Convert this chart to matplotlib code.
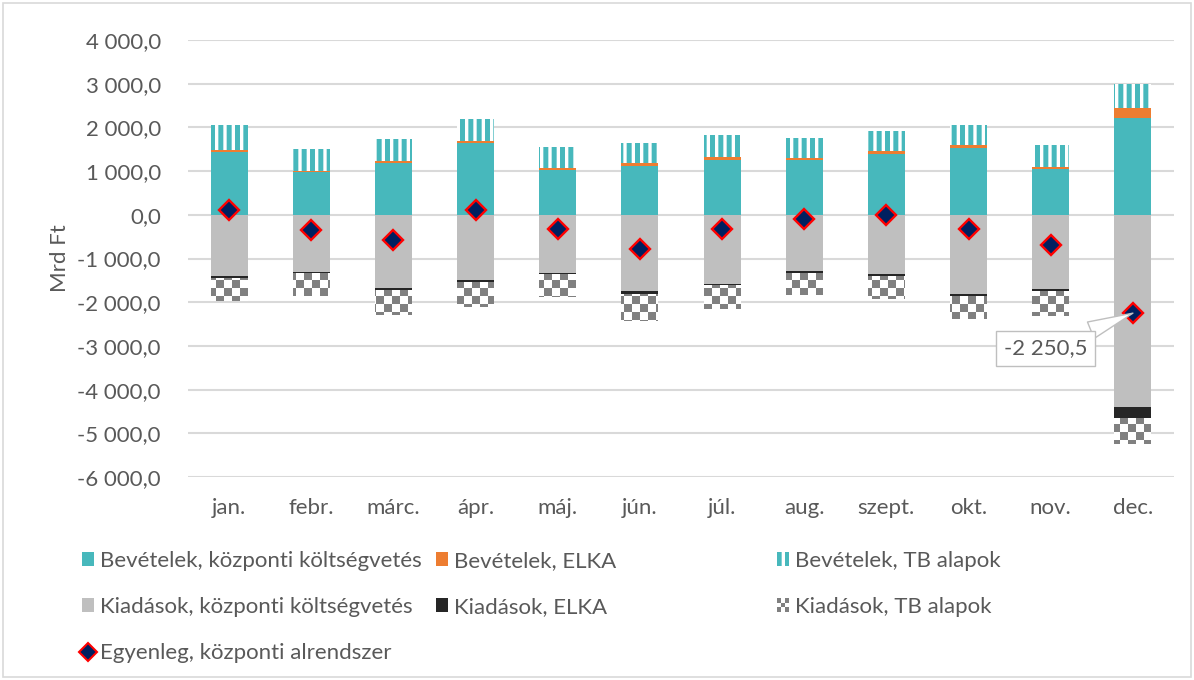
import numpy as np
import matplotlib
matplotlib.use("Agg")
import matplotlib.pyplot as plt
from matplotlib.ticker import FuncFormatter, MultipleLocator
from matplotlib.patches import Rectangle, Patch
from matplotlib.lines import Line2D
from matplotlib.path import Path
from matplotlib.legend_handler import HandlerBase

# ---------------- data (Mrd Ft) ----------------
months = ['jan.', 'febr.', 'márc.', 'ápr.', 'máj.', 'jún.', 'júl.', 'aug.',
          'szept.', 'okt.', 'nov.', 'dec.']
rev_central = [1447, 983, 1195, 1637, 1029, 1120, 1264, 1248, 1401, 1531, 1045, 2210]
rev_elka = [45, 30, 45, 55, 35, 60, 50, 45, 65, 55, 60, 230]
rev_tb = [570, 500, 496, 503, 496, 466, 512, 466, 457, 480, 496, 549]
exp_central = [1410, 1303, 1669, 1502, 1326, 1746, 1577, 1289, 1365, 1822, 1698, 4405]
exp_elka = [30, 25, 60, 40, 40, 60, 40, 45, 45, 45, 53, 245]
exp_tb = [530, 520, 570, 570, 510, 625, 533, 510, 525, 510, 558, 594]
balance = [100, -340, -580, 100, -320, -790, -320, -90, -10, -320, -700, -2250.5]
annot_label = '-2 250,5'

labels = ['Bevételek, központi költségvetés', 'Bevételek, ELKA', 'Bevételek, TB alapok',
          'Kiadások, központi költségvetés', 'Kiadások, ELKA', 'Kiadások, TB alapok',
          'Egyenleg, központi alrendszer']

TEAL = '#47B8BC'
ORANGE = '#ED7D31'
GREY = '#BFBFBF'
BLACK = '#262626'
CHECK = '#808080'
TXT = '#595959'
GRID = '#D9D9D9'
FS = 16

plt.rcParams['font.family'] = ['Lato', 'DejaVu Sans']
plt.rcParams['hatch.linewidth'] = 3.6

fig = plt.figure(figsize=(11.94, 6.80), dpi=100)
ax = fig.add_axes([188 / 1194, 1 - 477 / 680, (1174 - 188) / 1194, (477 - 40) / 680])

x = np.arange(len(months))
w = 0.45
rc = np.array(rev_central, float)
re = np.array(rev_elka, float)
rt = np.array(rev_tb, float)
ec = np.array(exp_central, float)
ee = np.array(exp_elka, float)
et = np.array(exp_tb, float)

ax.bar(x, rc, w, color=TEAL, zorder=2, linewidth=0)
ax.bar(x, re, w, bottom=rc, color=ORANGE, zorder=2, linewidth=0)
ax.bar(x, rt, w, bottom=rc + re, facecolor='white', edgecolor=TEAL, hatch='||',
       linewidth=0, zorder=2)
ax.bar(x, -ec, w, color=GREY, zorder=2, linewidth=0)
ax.bar(x, -ee, w, bottom=-ec, color=BLACK, zorder=2, linewidth=0)
tbx = ax.bar(x, -et, w, bottom=-ec - ee, facecolor='white', linewidth=0, zorder=2)

# checkerboard pattern, clipped to the TB expense bars
H, W = 680, 1194
cell = 8
yy, xx = np.mgrid[0:H, 0:W]
mask = ((xx // cell + yy // cell) % 2) == 0
img = np.ones((H, W, 3))
img[mask] = np.array([0x80, 0x80, 0x80]) / 255.0
im = ax.imshow(img, extent=[0, 1, 0, 1], transform=fig.transFigure, aspect='auto',
               interpolation='nearest', zorder=2.5)
cpath = Path.make_compound_path(*[p.get_patch_transform().transform_path(p.get_path())
                                  for p in tbx.patches])
im.set_clip_path(cpath, ax.transData)

ax.plot(x, balance, linestyle='none', marker='D', markersize=10.5,
        markerfacecolor='#002060', markeredgecolor='#FF0000', markeredgewidth=1.7, zorder=4)

ax.annotate(annot_label, xy=(11, balance[-1]), xytext=(9.94, -3060), textcoords='data',
            ha='center', va='center', fontsize=FS, color=TXT, zorder=5,
            bbox=dict(boxstyle='square,pad=0.35', fc='white', ec=GREY, lw=1),
            arrowprops=dict(arrowstyle='wedge,tail_width=0.8', fc='white', ec=GREY, lw=1,
                            shrinkA=0, shrinkB=0))

ax.set_xlim(-0.5, 11.5)
ax.set_ylim(-6000, 4000)
ax.yaxis.set_major_locator(MultipleLocator(1000))


def fmt(v, pos):
    s = f'{abs(v):,.1f}'.replace(',', ' ').replace('.', ',')
    return ('-' if v < 0 else '') + s


ax.yaxis.set_major_formatter(FuncFormatter(fmt))
ax.set_xticks(x)
ax.set_xticklabels(months)
ax.tick_params(axis='both', length=0, labelsize=FS, labelcolor=TXT)
ax.tick_params(axis='y', pad=19.5)
ax.tick_params(axis='x', pad=15)
ax.grid(axis='y', color=GRID, linewidth=1.5, zorder=0)
ax.set_axisbelow(True)
for s in ax.spines.values():
    s.set_visible(False)
ax.set_ylabel('Mrd Ft', fontsize=FS, color=TXT, va='center')
ax.yaxis.set_label_coords((60 - 188) / (1174 - 188), 0.5)


class CheckerHandler(HandlerBase):
    def create_artists(self, legend, orig_handle, xdescent, ydescent, width, height,
                       fontsize, trans):
        arts = []
        n = 3
        cw, ch = width / n, height / n
        for i in range(n):
            for j in range(n):
                if (i + j) % 2 == 0:
                    arts.append(Rectangle((-xdescent + i * cw, -ydescent + j * ch), cw, ch,
                                          facecolor=CHECK, edgecolor='none', transform=trans))
        return arts


class CheckerKey:
    pass


h_rc = Patch(facecolor=TEAL, edgecolor='none')
h_re = Patch(facecolor=ORANGE, edgecolor='none')
h_rt = Patch(facecolor='white', edgecolor=TEAL, hatch='||', linewidth=0)
h_ec = Patch(facecolor=GREY, edgecolor='none')
h_ee = Patch(facecolor=BLACK, edgecolor='none')
h_et = CheckerKey()
h_bal = Line2D([], [], linestyle='none', marker='D', markersize=9,
               markerfacecolor='#002060', markeredgecolor='#FF0000', markeredgewidth=1.5)

common = dict(frameon=False, fontsize=FS, labelcolor=TXT, handlelength=0.55,
              handleheight=0.55, handletextpad=0.25, labelspacing=1.17, borderpad=0,
              borderaxespad=0, loc='upper left')
top = 1 - 551 / 680
fig.legend([h_rc, h_ec, h_bal], [labels[0], labels[3], labels[6]],
           bbox_to_anchor=(82 / 1194, top), **common)
fig.legend([h_re, h_ee], [labels[1], labels[4]],
           bbox_to_anchor=(436 / 1194, top), **common)
fig.legend([h_rt, h_et], [labels[2], labels[5]],
           bbox_to_anchor=(777 / 1194, top), handler_map={CheckerKey: CheckerHandler()},
           **common)

fig.patches.append(Rectangle((3 / 1194, 3 / 680), 1 - 6 / 1194, 1 - 6 / 680,
                             transform=fig.transFigure, fill=False, edgecolor=GRID, lw=1.2))

fig.savefig('out.png', dpi=100)
